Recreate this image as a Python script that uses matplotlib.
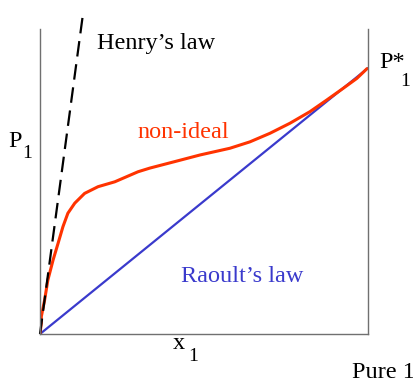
import matplotlib
matplotlib.use("Agg")
import matplotlib.pyplot as plt

# Data (mole fraction x1 vs partial pressure P1, normalised)
raoult_x = [0.0, 1.0]
raoult_y = [0.0, 0.872]

henry_x = [0.0, 0.131]
henry_y = [0.0, 1.049]

nonideal_x = [0.0, 0.004, 0.004, 0.014, 0.024, 0.040, 0.055, 0.070, 0.085,
              0.106, 0.136, 0.177, 0.228, 0.299, 0.335, 0.410, 0.488, 0.579,
              0.640, 0.701, 0.762, 0.823, 0.874, 0.925, 0.966, 0.997]
nonideal_y = [0.0, 0.036, 0.057, 0.111, 0.177, 0.243, 0.297, 0.352, 0.396,
              0.429, 0.461, 0.483, 0.499, 0.532, 0.544, 0.565, 0.587, 0.609,
              0.630, 0.658, 0.691, 0.729, 0.767, 0.806, 0.838, 0.870]

W, H = 414, 383
fig = plt.figure(figsize=(W / 100, H / 100), dpi=100)
ax = fig.add_axes([40 / W, (H - 334) / H, 328 / W, 305 / H])
ax.set_xlim(0, 1)
ax.set_ylim(0, 1)
ax.set_xticks([])
ax.set_yticks([])
ax.spines['top'].set_visible(False)
for s in ['left', 'right', 'bottom']:
    ax.spines[s].set_color('#707070')
    ax.spines[s].set_linewidth(1.0)

red = '#ff3300'
blue = '#3a3acc'

ax.plot(raoult_x, raoult_y, color=blue, lw=1.6, solid_capstyle='round')
ax.plot(nonideal_x, nonideal_y, color=red, lw=2.2, solid_capstyle='round',
        solid_joinstyle='round')
ax.plot(henry_x, henry_y, color='black', lw=1.6, dashes=(7, 3.5), clip_on=False)

serif = 'Liberation Serif'
fs = 17.5


def ftext(px, py, s, size=fs, color='black'):
    fig.text(px / W, 1 - py / H, s, fontsize=size, color=color, family=serif,
             ha='left', va='baseline')


ftext(97, 49, "Henry\u2019s law")
ftext(137, 138, "non-ideal", color=red)
ftext(181, 282, "Raoult\u2019s law", color=blue)
ftext(379, 68, "P*")
ftext(400, 86, "1", size=14)
ftext(8, 147, "P")
ftext(22, 158, "1", size=14)
ftext(173, 349, "x")
ftext(188, 361, "1", size=14)
ftext(352, 378, "Pure 1")

fig.savefig("out.png", dpi=100)
